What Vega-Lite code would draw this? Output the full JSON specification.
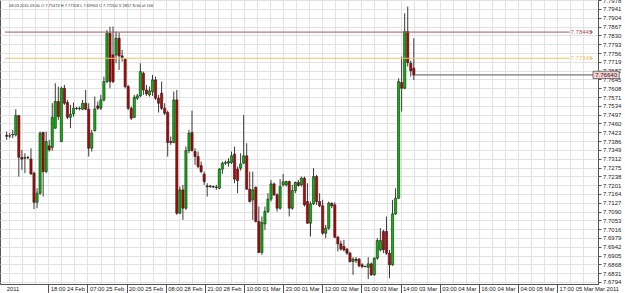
{
"$schema": "https://vega.github.io/schema/vega-lite/v6.json",
"width": 598, "height": 284,
"autosize": "none",
"padding": {"left": 0, "top": 0, "right": 27, "bottom": 9},
"background": "white",
"view": {"stroke": "#555555", "strokeWidth": 1},
"config": {"font": "Liberation Sans"},
"datasets": {
"candles": [
{"i":0,"o":7.7410,"h":7.7426,"l":7.7391,"c":7.7406},
{"i":1,"o":7.7407,"h":7.7420,"l":7.7398,"c":7.7408},
{"i":2,"o":7.7412,"h":7.7433,"l":7.7398,"c":7.7414},
{"i":3,"o":7.7412,"h":7.7520,"l":7.7405,"c":7.7493},
{"i":4,"o":7.7493,"h":7.7495,"l":7.7237,"c":7.7318},
{"i":5,"o":7.7317,"h":7.7349,"l":7.7265,"c":7.7310},
{"i":6,"o":7.7314,"h":7.7335,"l":7.7251,"c":7.7317},
{"i":7,"o":7.7317,"h":7.7324,"l":7.7310,"c":7.7316},
{"i":8,"o":7.7311,"h":7.7356,"l":7.7244,"c":7.7248},
{"i":9,"o":7.7251,"h":7.7258,"l":7.7100,"c":7.7129},
{"i":10,"o":7.7129,"h":7.7188,"l":7.7104,"c":7.7167},
{"i":11,"o":7.7167,"h":7.7426,"l":7.7160,"c":7.7419},
{"i":12,"o":7.7422,"h":7.7426,"l":7.7153,"c":7.7258},
{"i":13,"o":7.7258,"h":7.7426,"l":7.7251,"c":7.7384},
{"i":14,"o":7.7366,"h":7.7391,"l":7.7342,"c":7.7349},
{"i":15,"o":7.7359,"h":7.7545,"l":7.7345,"c":7.7486},
{"i":16,"o":7.7440,"h":7.7629,"l":7.7438,"c":7.7552},
{"i":17,"o":7.7552,"h":7.7615,"l":7.7475,"c":7.7489},
{"i":18,"o":7.7384,"h":7.7615,"l":7.7382,"c":7.7608},
{"i":19,"o":7.7608,"h":7.7622,"l":7.7538,"c":7.7545},
{"i":20,"o":7.7548,"h":7.7559,"l":7.7478,"c":7.7486},
{"i":21,"o":7.7486,"h":7.7538,"l":7.7440,"c":7.7499},
{"i":22,"o":7.7500,"h":7.7548,"l":7.7489,"c":7.7524},
{"i":23,"o":7.7524,"h":7.7530,"l":7.7518,"c":7.7522},
{"i":24,"o":7.7522,"h":7.7531,"l":7.7515,"c":7.7524},
{"i":25,"o":7.7520,"h":7.7559,"l":7.7517,"c":7.7545},
{"i":26,"o":7.7545,"h":7.7601,"l":7.7517,"c":7.7520},
{"i":27,"o":7.7520,"h":7.7545,"l":7.7321,"c":7.7356},
{"i":28,"o":7.7356,"h":7.7433,"l":7.7342,"c":7.7419},
{"i":29,"o":7.7430,"h":7.7573,"l":7.7426,"c":7.7521},
{"i":30,"o":7.7534,"h":7.7552,"l":7.7517,"c":7.7524},
{"i":31,"o":7.7524,"h":7.7580,"l":7.7517,"c":7.7559},
{"i":32,"o":7.7559,"h":7.7657,"l":7.7552,"c":7.7636},
{"i":33,"o":7.7636,"h":7.7853,"l":7.7629,"c":7.7839},
{"i":34,"o":7.7839,"h":7.7867,"l":7.7608,"c":7.7636},
{"i":35,"o":7.7748,"h":7.7867,"l":7.7629,"c":7.7636},
{"i":36,"o":7.7748,"h":7.7846,"l":7.7713,"c":7.7818},
{"i":37,"o":7.7818,"h":7.7842,"l":7.7685,"c":7.7744},
{"i":38,"o":7.7744,"h":7.7769,"l":7.7720,"c":7.7737},
{"i":39,"o":7.7730,"h":7.7734,"l":7.7608,"c":7.7615},
{"i":40,"o":7.7615,"h":7.7622,"l":7.7517,"c":7.7524},
{"i":41,"o":7.7524,"h":7.7531,"l":7.7475,"c":7.7482},
{"i":42,"o":7.7486,"h":7.7580,"l":7.7482,"c":7.7570},
{"i":43,"o":7.7566,"h":7.7584,"l":7.7559,"c":7.7576},
{"i":44,"o":7.7576,"h":7.7713,"l":7.7570,"c":7.7678},
{"i":45,"o":7.7671,"h":7.7678,"l":7.7580,"c":7.7601},
{"i":46,"o":7.7601,"h":7.7622,"l":7.7576,"c":7.7584},
{"i":47,"o":7.7580,"h":7.7615,"l":7.7573,"c":7.7597},
{"i":48,"o":7.7594,"h":7.7664,"l":7.7576,"c":7.7643},
{"i":49,"o":7.7643,"h":7.7657,"l":7.7559,"c":7.7566},
{"i":50,"o":7.7566,"h":7.7580,"l":7.7506,"c":7.7545},
{"i":51,"o":7.7587,"h":7.7636,"l":7.7517,"c":7.7524},
{"i":52,"o":7.7524,"h":7.7545,"l":7.7496,"c":7.7503},
{"i":53,"o":7.7506,"h":7.7514,"l":7.7321,"c":7.7380},
{"i":54,"o":7.7384,"h":7.7405,"l":7.7370,"c":7.7380},
{"i":55,"o":7.7380,"h":7.7594,"l":7.7377,"c":7.7559},
{"i":56,"o":7.7559,"h":7.7601,"l":7.7076,"c":7.7083},
{"i":57,"o":7.7083,"h":7.7195,"l":7.7081,"c":7.7181},
{"i":58,"o":7.7181,"h":7.7202,"l":7.7055,"c":7.7104},
{"i":59,"o":7.7104,"h":7.7363,"l":7.7097,"c":7.7346},
{"i":60,"o":7.7346,"h":7.7433,"l":7.7335,"c":7.7419},
{"i":61,"o":7.7422,"h":7.7514,"l":7.7342,"c":7.7346},
{"i":62,"o":7.7342,"h":7.7356,"l":7.7286,"c":7.7321},
{"i":63,"o":7.7321,"h":7.7342,"l":7.7272,"c":7.7279},
{"i":64,"o":7.7283,"h":7.7300,"l":7.7251,"c":7.7258},
{"i":65,"o":7.7247,"h":7.7258,"l":7.7202,"c":7.7216},
{"i":66,"o":7.7198,"h":7.7209,"l":7.7153,"c":7.7194},
{"i":67,"o":7.7194,"h":7.7202,"l":7.7190,"c":7.7197},
{"i":68,"o":7.7195,"h":7.7199,"l":7.7188,"c":7.7193},
{"i":69,"o":7.7193,"h":7.7202,"l":7.7181,"c":7.7191},
{"i":70,"o":7.7188,"h":7.7272,"l":7.7184,"c":7.7268},
{"i":71,"o":7.7268,"h":7.7300,"l":7.7248,"c":7.7293},
{"i":72,"o":7.7293,"h":7.7304,"l":7.7286,"c":7.7296},
{"i":73,"o":7.7293,"h":7.7314,"l":7.7279,"c":7.7300},
{"i":74,"o":7.7296,"h":7.7342,"l":7.7290,"c":7.7324},
{"i":75,"o":7.7331,"h":7.7363,"l":7.7209,"c":7.7226},
{"i":76,"o":7.7268,"h":7.7279,"l":7.7167,"c":7.7220},
{"i":77,"o":7.7272,"h":7.7335,"l":7.7262,"c":7.7290},
{"i":78,"o":7.7293,"h":7.7496,"l":7.7290,"c":7.7324},
{"i":79,"o":7.7324,"h":7.7377,"l":7.7181,"c":7.7184},
{"i":80,"o":7.7184,"h":7.7258,"l":7.7128,"c":7.7132},
{"i":81,"o":7.7139,"h":7.7258,"l":7.7055,"c":7.7181},
{"i":82,"o":7.7192,"h":7.7195,"l":7.7044,"c":7.7048},
{"i":83,"o":7.7048,"h":7.7111,"l":7.6915,"c":7.6918},
{"i":84,"o":7.6918,"h":7.7069,"l":7.6908,"c":7.7044},
{"i":85,"o":7.7038,"h":7.7111,"l":7.7013,"c":7.7090},
{"i":86,"o":7.7090,"h":7.7167,"l":7.7083,"c":7.7142},
{"i":87,"o":7.7142,"h":7.7223,"l":7.7132,"c":7.7206},
{"i":88,"o":7.7206,"h":7.7212,"l":7.7156,"c":7.7160},
{"i":89,"o":7.7160,"h":7.7167,"l":7.7090,"c":7.7104},
{"i":90,"o":7.7104,"h":7.7226,"l":7.7097,"c":7.7195},
{"i":91,"o":7.7202,"h":7.7248,"l":7.7195,"c":7.7215},
{"i":92,"o":7.7202,"h":7.7220,"l":7.7195,"c":7.7216},
{"i":93,"o":7.7216,"h":7.7220,"l":7.7069,"c":7.7104},
{"i":94,"o":7.7104,"h":7.7202,"l":7.7097,"c":7.7178},
{"i":95,"o":7.7178,"h":7.7216,"l":7.7167,"c":7.7212},
{"i":96,"o":7.7212,"h":7.7223,"l":7.7195,"c":7.7199},
{"i":97,"o":7.7202,"h":7.7237,"l":7.7195,"c":7.7230},
{"i":98,"o":7.7230,"h":7.7237,"l":7.7111,"c":7.7118},
{"i":99,"o":7.7132,"h":7.7209,"l":7.7038,"c":7.7041},
{"i":100,"o":7.7041,"h":7.7132,"l":7.6985,"c":7.7122},
{"i":101,"o":7.7122,"h":7.7272,"l":7.7118,"c":7.7237},
{"i":102,"o":7.7237,"h":7.7244,"l":7.7118,"c":7.7132},
{"i":103,"o":7.7132,"h":7.7167,"l":7.7108,"c":7.7114},
{"i":104,"o":7.7114,"h":7.7139,"l":7.6992,"c":7.6999},
{"i":105,"o":7.6999,"h":7.7034,"l":7.6978,"c":7.7020},
{"i":106,"o":7.7020,"h":7.7132,"l":7.7013,"c":7.7125},
{"i":107,"o":7.7125,"h":7.7128,"l":7.7104,"c":7.7114},
{"i":108,"o":7.7118,"h":7.7128,"l":7.6978,"c":7.6982},
{"i":109,"o":7.6982,"h":7.6988,"l":7.6922,"c":7.6954},
{"i":110,"o":7.6954,"h":7.6968,"l":7.6926,"c":7.6932},
{"i":111,"o":7.6943,"h":7.6971,"l":7.6922,"c":7.6929},
{"i":112,"o":7.6932,"h":7.6936,"l":7.6908,"c":7.6915},
{"i":113,"o":7.6915,"h":7.6922,"l":7.6876,"c":7.6880},
{"i":114,"o":7.6880,"h":7.6898,"l":7.6824,"c":7.6890},
{"i":115,"o":7.6890,"h":7.6898,"l":7.6873,"c":7.6884},
{"i":116,"o":7.6890,"h":7.6894,"l":7.6856,"c":7.6862},
{"i":117,"o":7.6866,"h":7.6873,"l":7.6852,"c":7.6859},
{"i":118,"o":7.6858,"h":7.6862,"l":7.6856,"c":7.6860},
{"i":119,"o":7.6856,"h":7.6898,"l":7.6806,"c":7.6870},
{"i":120,"o":7.6870,"h":7.6876,"l":7.6820,"c":7.6824},
{"i":121,"o":7.6824,"h":7.6898,"l":7.6820,"c":7.6894},
{"i":122,"o":7.6894,"h":7.6978,"l":7.6887,"c":7.6968},
{"i":123,"o":7.6929,"h":7.7020,"l":7.6922,"c":7.6968},
{"i":124,"o":7.7006,"h":7.7013,"l":7.6915,"c":7.6929},
{"i":125,"o":7.7006,"h":7.7069,"l":7.6908,"c":7.6915},
{"i":126,"o":7.6915,"h":7.6929,"l":7.6810,"c":7.6866},
{"i":127,"o":7.6866,"h":7.7139,"l":7.6862,"c":7.7080},
{"i":128,"o":7.7080,"h":7.7188,"l":7.7076,"c":7.7146},
{"i":129,"o":7.7146,"h":7.7650,"l":7.7142,"c":7.7636},
{"i":130,"o":7.7632,"h":7.7741,"l":7.7510,"c":7.7608},
{"i":131,"o":7.7608,"h":7.7923,"l":7.7604,"c":7.7846},
{"i":132,"o":7.7846,"h":7.7951,"l":7.7699,"c":7.7716},
{"i":133,"o":7.7713,"h":7.7724,"l":7.7657,"c":7.7681},
{"i":134,"o":7.7692,"h":7.7818,"l":7.7643,"c":7.7664}
],
"levels": [
{"name": "r", "v": 7.7844, "label": "7.78445"},
{"name": "o", "v": 7.7734, "label": "7.77345"}
],
"last": [{"price": 7.7664, "label": "7.76640"}],
"misc": [{"header": "08.03.2011 03:00 O 7.75474 H 7.77318 L 7.69963 C 7.77200 V 2817 N 60 of 106", "corner": "Mar 2011"}]
},
"layer": [
{
"data": {"name": "candles"},
"mark": {"type": "rule", "color": "#3a3a3a", "strokeWidth": 1},
"encoding": {
"x": {"field": "i", "type": "quantitative", "title": null,
"scale": {"domain": [-0.55, 192.98], "nice": false, "zero": false},
"axis": {
"values": [0.841,5.134,9.427,13.72,18.013,22.306,26.599,30.892,35.185,39.478,43.771,48.064,52.357,56.65,60.943,65.236,69.529,73.822,78.115,82.408,86.701,90.994,95.287,99.58,103.873,108.166,112.459,116.752,121.045,125.338,129.631,133.924,138.217,142.51,146.803,151.096,155.389,159.682,163.975,168.268,172.561,176.854,181.147,185.44,189.733],
"tickCount": 500,
"grid": true, "gridColor": "#e2e2e2", "gridWidth": 1,
"domainColor": "#555555", "tickSize": 9, "tickColor": "#555555",
"tickOpacity": {"condition": {"test": "abs((datum.value-0.841)/12.879-round((datum.value-0.841)/12.879))<0.02 && datum.value>5", "value": 1}, "value": 0},
"labelExpr": "abs((datum.value-0.841)/12.879-round((datum.value-0.841)/12.879))<0.02 ? ['2011','18:00 24 Feb','07:00 25 Feb','20:00 25 Feb','08:00 28 Feb','21:00 28 Feb','10:00 01 Mar','23:00 01 Mar','12:00 02 Mar','01:00 03 Mar','14:00 03 Mar','03:00 04 Mar','16:00 04 Mar','04:00 05 Mar','17:00 05 Mar'][round((datum.value-0.841)/12.879)] : ''",
"labelAlign": "left", "labelBaseline": "middle", "labelPadding": -4.5,
"labelOffset": {"condition": {"test": "datum.value < 5", "value": -3}, "value": 2},
"labelFontSize": 5.8, "labelColor": "#222222", "labelOverlap": false, "labelFlush": false, "labelBound": false
}},
"y": {"field": "l", "type": "quantitative", "title": null,
"scale": {"domain": [7.67855, 7.79788], "nice": false, "zero": false},
"axis": {
"orient": "right",
"values": [7.6794,7.6831,7.6868,7.6905,7.6942,7.6979,7.7016,7.7053,7.7090,7.7127,7.7164,7.7201,7.7238,7.7275,7.7312,7.7349,7.7386,7.7423,7.7460,7.7497,7.7534,7.7571,7.7608,7.7645,7.7682,7.7719,7.7756,7.7793,7.7830,7.7867,7.7904,7.7941,7.7978],
"tickCount": 500,
"format": ".4f", "grid": true, "gridColor": "#e2e2e2",
"domainColor": "#555555", "tickColor": "#555555", "tickSize": 3,
"labelFontSize": 6, "labelColor": "#222222", "labelPadding": 1.5,
"labelOverlap": false, "labelBound": false, "labelFlush": false
}},
"y2": {"field": "h"}
}
},
{
"data": {"name": "candles"},
"mark": {"type": "bar", "size": 2.2, "stroke": "#1e1e1e", "strokeWidth": 0.6},
"encoding": {
"x": {"field": "i", "type": "quantitative", "title": null},
"y": {"field": "o", "type": "quantitative", "title": null},
"y2": {"field": "c"},
"color": {"condition": {"test": "datum.c >= datum.o", "value": "#00c000"}, "value": "#c00000"}
}
},
{
"data": {"name": "levels"},
"mark": {"type": "rule", "strokeWidth": 1},
"encoding": {
"x": {"datum": -0.55}, "x2": {"datum": 185.3},
"y": {"field": "v", "type": "quantitative", "title": null},
"color": {"field": "name", "type": "nominal", "scale": {"domain": ["r", "o"], "range": ["#a65a5a", "#f0c266"]}, "legend": null}
}
},
{
"data": {"name": "levels"},
"mark": {"type": "text", "align": "left", "baseline": "middle", "fontSize": 6},
"encoding": {
"x": {"datum": 185.6},
"y": {"field": "v", "type": "quantitative", "title": null},
"text": {"field": "label"},
"color": {"field": "name", "type": "nominal", "legend": null}
}
},
{
"data": {"name": "levels"},
"mark": {"type": "point", "shape": "triangle-right", "size": 10, "filled": true, "opacity": 1},
"encoding": {
"x": {"datum": 192.6},
"y": {"field": "v", "type": "quantitative", "title": null},
"color": {"field": "name", "type": "nominal", "legend": null}
}
},
{
"data": {"name": "last"},
"mark": {"type": "rule", "color": "#555555", "strokeWidth": 1},
"encoding": {
"x": {"datum": 134.2}, "x2": {"datum": 192.98},
"y": {"field": "price", "type": "quantitative", "title": null}
}
},
{
"data": {"name": "last"},
"mark": {"type": "rect", "fill": "#f9d0d0", "stroke": "#555555", "strokeWidth": 0.8},
"encoding": {
"x": {"datum": 192.98}, "x2": {"datum": 201.6},
"y": {"datum": 7.76795}, "y2": {"datum": 7.76485}
}
},
{
"data": {"name": "last"},
"mark": {"type": "text", "align": "center", "baseline": "middle", "fontSize": 6, "color": "#222222"},
"encoding": {
"x": {"datum": 197.3},
"y": {"field": "price", "type": "quantitative", "title": null},
"text": {"field": "label"}
}
},
{
"data": {"name": "misc"},
"mark": {"type": "text", "align": "left", "baseline": "middle", "fontSize": 4, "color": "#333333", "dx": 4, "dy": 6},
"encoding": {
"x": {"datum": -0.55},
"y": {"datum": 7.79788},
"text": {"field": "header"}
}
},
{
"data": {"name": "misc"},
"mark": {"type": "text", "align": "left", "baseline": "middle", "fontSize": 5.8, "color": "#222222", "dx": 2, "dy": 4.5},
"encoding": {
"x": {"datum": 192.98},
"y": {"datum": 7.67855},
"text": {"field": "corner"}
}
}
]
}
